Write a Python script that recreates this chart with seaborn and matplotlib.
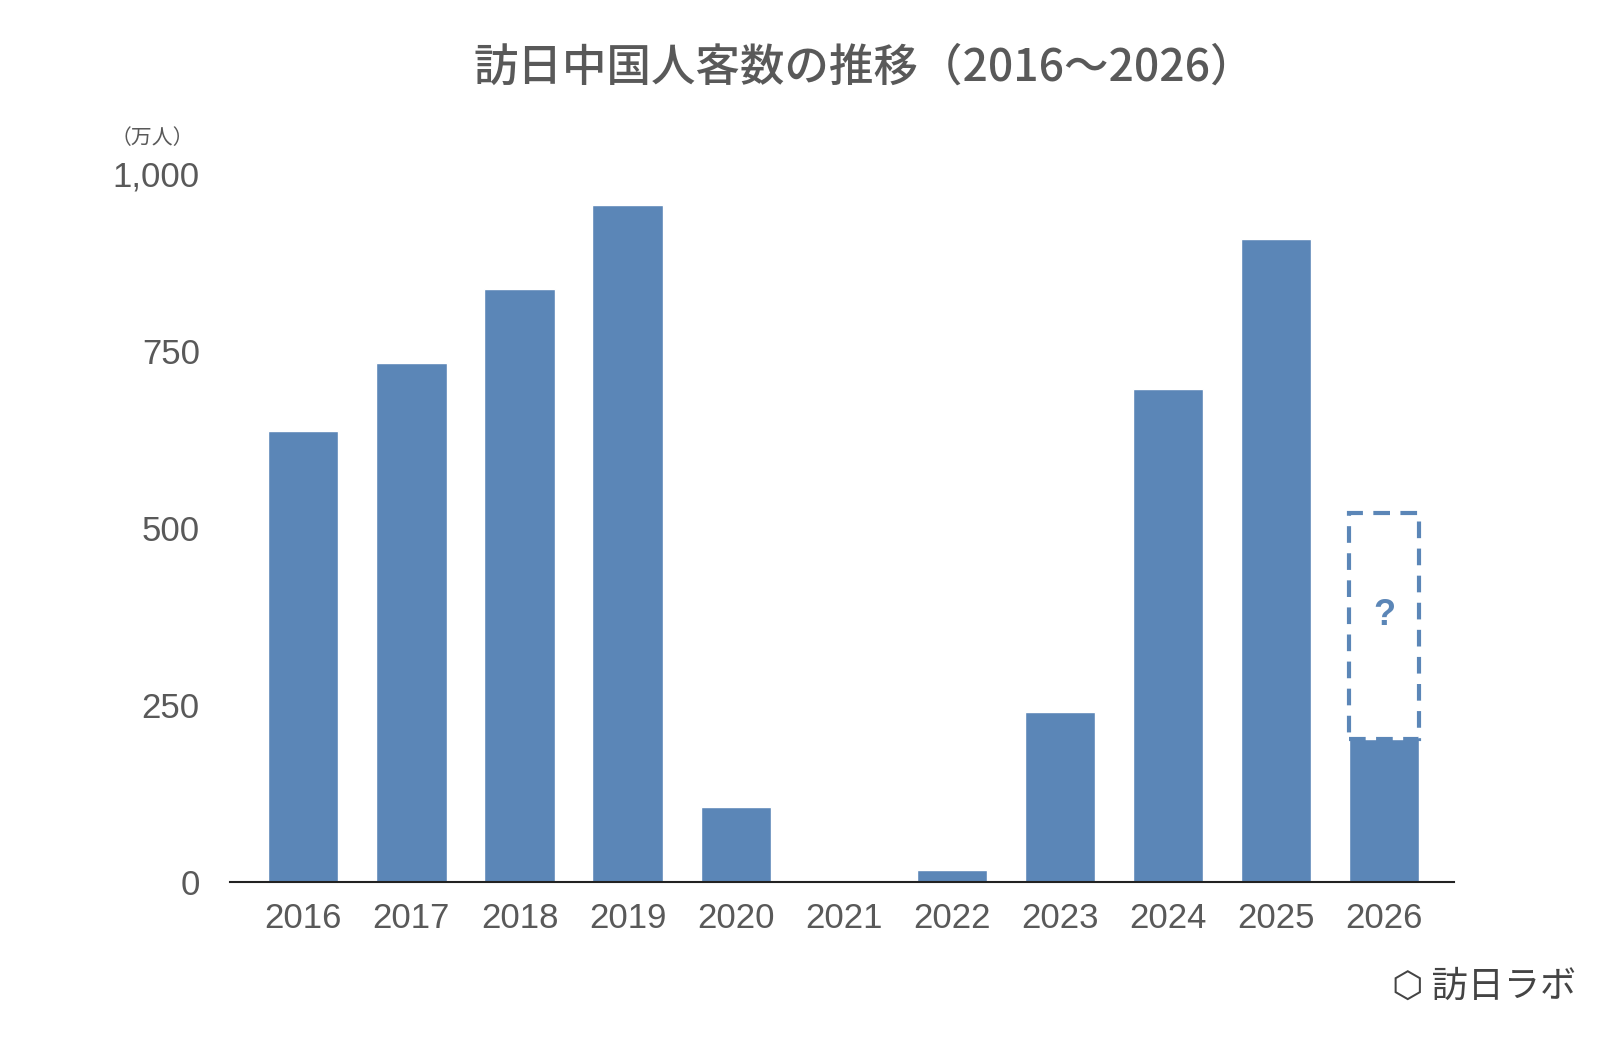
import matplotlib
matplotlib.use("Agg")
import matplotlib.pyplot as plt
import seaborn as sns
import pandas as pd
from matplotlib.patches import Rectangle

years = ["2016", "2017", "2018", "2019", "2020", "2021", "2022", "2023", "2024", "2025", "2026"]
visitors = [637, 733, 838, 956, 106, 4, 17, 240, 696, 908, 203]
forecast_top = 521
yticks = [0, 250, 500, 750, 1000]
ytick_labels = ["0", "250", "500", "750", "1,000"]

sns.set_theme(style="white")
plt.rcParams['font.family'] = ['Noto Sans CJK JP', 'DejaVu Sans']

bar_color = "#5B86B7"
text_color = "#595959"

fig = plt.figure(figsize=(16, 10.48), dpi=100)
ax = fig.add_axes([0.144, 0.158, 0.765, 0.676])

df = pd.DataFrame({"year": years, "visitors": visitors})
sns.barplot(data=df, x="year", y="visitors", color=bar_color, saturation=1, width=0.65, ax=ax)

# dashed forecast box on top of the 2026 bar
n = len(years) - 1
ax.add_patch(Rectangle((n - 0.325, visitors[-1]), 0.65, forecast_top - visitors[-1],
                       fill=False, edgecolor=bar_color, linestyle=(0, (4, 2.5)), linewidth=3,
                       clip_on=False))
ax.text(n, (forecast_top + visitors[-1]) / 2 + 15, "?", color=bar_color, fontsize=26,
        fontweight="bold", ha="center", va="center", family=["Liberation Sans"])

ax.set_xlim(-0.675, 10.65)
ax.set_ylim(0, 1000)
ax.set_yticks(yticks)
ax.set_yticklabels(ytick_labels)
ax.tick_params(axis="both", labelsize=25, colors=text_color, length=0)
ax.tick_params(axis="x", pad=14)
ax.tick_params(axis="y", pad=22)
for lbl in ax.get_xticklabels() + ax.get_yticklabels():
    lbl.set_family(["Liberation Sans"])
ax.set_xlabel("")
ax.set_ylabel("")
for s in ["top", "right", "left"]:
    ax.spines[s].set_visible(False)
ax.spines["bottom"].set_color("#222222")
ax.spines["bottom"].set_linewidth(1.5)
for b in ax.patches:
    b.set_clip_on(False)

fig.text(0.54, 0.935, "訪日中国人客数の推移（2016～2026）", ha="center", va="center",
         fontsize=32, color=text_color, fontweight="medium")
fig.text(0.095, 0.868, "（万人）", ha="center", va="center", fontsize=15, color=text_color)
fig.text(0.985, 0.058, "⬡ 訪日ラボ", ha="right", va="center", fontsize=26, color="#444444")

fig.savefig("out.png", dpi=100)
